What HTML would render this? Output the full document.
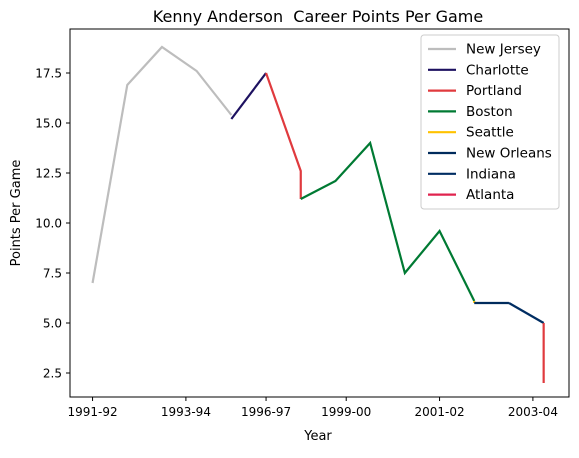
<!DOCTYPE html>
<html><head><meta charset="utf-8"><style>
body{margin:0;background:#fff;font-family:"Liberation Sans","DejaVu Sans",sans-serif;}
svg text{font-family:"DejaVu Sans","Liberation Sans",sans-serif;}
</style></head><body>
<svg id="chart" width="579" height="453" xmlns="http://www.w3.org/2000/svg">
<rect x="0" y="0" width="579" height="453" fill="#fff"/>
<text x="318" y="22" font-size="16" text-anchor="middle">Kenny Anderson&#160; Career Points Per Game</text>
<text x="318" y="440" font-size="13" text-anchor="middle">Year</text>
<text x="20" y="213" font-size="13" text-anchor="middle" transform="rotate(-90 20 213)">Points Per Game</text>
<g id="ticks"></g>
<g id="lines"></g>
<rect x="70" y="29" width="499" height="368" fill="none" stroke="#000" stroke-width="1"/>
<g id="legend"></g>
</svg>
<script>
const teams = ["New Jersey","Charlotte","Portland","Boston","Seattle","New Orleans","Indiana","Atlanta"];
const colors = ["#bdbdbd","#1d1160","#e03a3e","#007a33","#ffc200","#002b5c","#002d62","#e0234e"];
const segX = [[0,1,2,3,4],[4,5],[5,6,6],[6,7,8,9,10,11],[11,11],[11,12],[12,13],[13,13]];
const segY = [[7.0,16.9,18.8,17.6,15.4],[15.2,17.5],[17.5,12.6,11.2],[11.2,12.1,14.0,7.5,9.6,6.1],[6.1,6.0],[6.0,6.0],[6.0,5.0],[5.0,2.0]];
const lineColorIdx = [0,1,2,3,4,5,6,2];
const xTickPos = [0,2.69,5,7.31,10,12.69];
const xTickLabels = ["1991-92","1993-94","1996-97","1999-00","2001-02","2003-04"];
const yTicks = [2.5,5.0,7.5,10.0,12.5,15.0,17.5];

const NS="http://www.w3.org/2000/svg";
const xs = i => 70 + (i + 0.65) * 34.7;
const ys = v => 373 - (v - 2.5) * 20;
function mk(tag, attrs, parent){const e=document.createElementNS(NS,tag);for(const k in attrs)e.setAttribute(k,attrs[k]);parent.appendChild(e);return e;}
const tk=document.getElementById('ticks');
xTickPos.forEach((p,i)=>{
  const l=mk('line',{x1:xs(p),x2:xs(p),y1:397,y2:401,stroke:'#000'},tk);
  
  
  const t=mk('text',{x:xs(p),y:416,'font-size':12,'text-anchor':'middle'},tk);
  t.textContent=xTickLabels[i];
  
  
});
yTicks.forEach(v=>{
  const l=mk('line',{x1:66,x2:70,y1:ys(v),y2:ys(v),stroke:'#000'},tk);
  
  
  const t=mk('text',{x:62,y:ys(v)+4.5,'font-size':12,'text-anchor':'end'},tk);
  t.textContent=v.toFixed(1);
  
  
});
const lg=document.getElementById('lines');
segX.forEach((xsArr,s)=>{
  const pts=xsArr.map((x,i)=>xs(x)+','+ys(segY[s][i])).join(' ');
  const pl=mk('polyline',{points:pts,fill:'none',stroke:colors[lineColorIdx[s]],'stroke-width':2.2},lg);
  
  
});
const leg=document.getElementById('legend');
const box=mk('rect',{x:421,y:35,width:138,height:174,rx:3,fill:'#fff',stroke:'#ccc','fill-opacity':0.8},leg);


teams.forEach((t,i)=>{
  const y=49+i*20.8;
  const l=mk('line',{x1:428,x2:456,y1:y,y2:y,stroke:colors[i],'stroke-width':2.2},leg);
  
  
  const tx=mk('text',{x:466,y:y+4.5,'font-size':13.5},leg);
  tx.textContent=t;
  
  
});
</script>
</body></html>
